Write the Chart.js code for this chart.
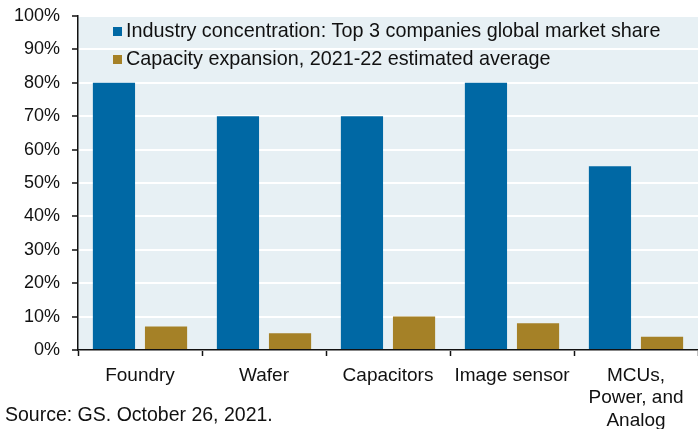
<!DOCTYPE html>
<html>
<head>
<meta charset="utf-8">
<script src="https://cdn.jsdelivr.net/npm/chart.js@4.4.0/dist/chart.umd.min.js"></script>
<style>
  html, body { margin: 0; padding: 0; background: #fff; }
  #wrap { position: relative; width: 698px; height: 429px; }
</style>
</head>
<body>
<div id="wrap"><canvas id="chart" width="698" height="429"></canvas></div>
<script>
// --- data ---
const categories = ['Foundry', 'Wafer', 'Capacitors', 'Image sensor', ['MCUs,', 'Power, and', 'Analog']];
const seriesNames = [
    'Industry concentration: Top 3 companies global market share',
    'Capacity expansion, 2021-22 estimated average'
];
const concentration = [80, 70, 70, 80, 55];
const expansion = [7, 5, 10, 8, 4];
const yTicks = [0, 10, 20, 30, 40, 50, 60, 70, 80, 90, 100];
const sourceText = 'Source: GS. October 26, 2021.';

const FONT = "'Liberation Sans', Arial, sans-serif";
const BLUE = '#0068a4';
const GOLD = '#a58127';
const PLOT_BG = '#e7f0f4';

// plot background
const plotBg = {
    id: 'plotBg',
    beforeDraw(chart) {
        const { ctx, chartArea: a } = chart;
        ctx.save();
        ctx.fillStyle = PLOT_BG;
        ctx.fillRect(a.left, a.top, a.right - a.left, a.bottom - a.top);
        ctx.restore();
    }
};

// legend inside the plot + source line
const innerLegend = {
    id: 'innerLegend',
    afterDraw(chart) {
        const { ctx, chartArea: a } = chart;
        ctx.save();
        ctx.font = `19.8px ${FONT}`;
        ctx.textBaseline = 'alphabetic';
        chart.data.datasets.forEach((ds, i) => {
            const base = 37 + i * 28;
            ctx.fillStyle = ds.backgroundColor;
            ctx.fillRect(a.left + 35, base - 10, 9, 9);
            ctx.fillStyle = '#111';
            ctx.fillText(ds.label, a.left + 48, base);
        });
        ctx.font = `19.5px ${FONT}`;
        ctx.fillText(sourceText, 5, 421);
        ctx.restore();
    }
};

new Chart(document.getElementById('chart'), {
    type: 'bar',
    data: {
        labels: categories,
        datasets: [
            { label: seriesNames[0], data: concentration, backgroundColor: BLUE,
              categoryPercentage: 0.84, barPercentage: 0.81 },
            { label: seriesNames[1], data: expansion, backgroundColor: GOLD,
              categoryPercentage: 0.84, barPercentage: 0.81 }
        ]
    },
    options: {
        responsive: false,
        animation: false,
        layout: { padding: { top: 16, right: 0, left: 0, bottom: 0 } },
        plugins: {
            legend: { display: false },
            tooltip: { enabled: false }
        },
        scales: {
            x: {
                grid: { display: true, drawOnChartArea: false, tickLength: 6, tickColor: '#111', tickWidth: 1.5 },
                border: { color: '#111', width: 1.5 },
                ticks: { color: '#111', font: { family: FONT, size: 19, lineHeight: 1.2 }, padding: 8, maxRotation: 0, autoSkip: false },
                afterFit(scale) { scale.height = 79; scale.paddingLeft = 0; scale.paddingRight = 0; }
            },
            y: {
                min: 0,
                max: 100,
                afterBuildTicks(scale) { scale.ticks = yTicks.map(v => ({ value: v })); },
                grid: { color: '#ffffff', lineWidth: 2, tickLength: 6, tickColor: '#111', tickWidth: 1.5 },
                border: { color: '#111', width: 1.5 },
                ticks: { color: '#111', font: { family: FONT, size: 18 }, padding: 12,
                         callback: v => v + '%' },
                afterFit(scale) { scale.width = 78; scale.paddingTop = 0; scale.paddingBottom = 0; }
            }
        }
    },
    plugins: [plotBg, innerLegend]
});
</script>
</body>
</html>
